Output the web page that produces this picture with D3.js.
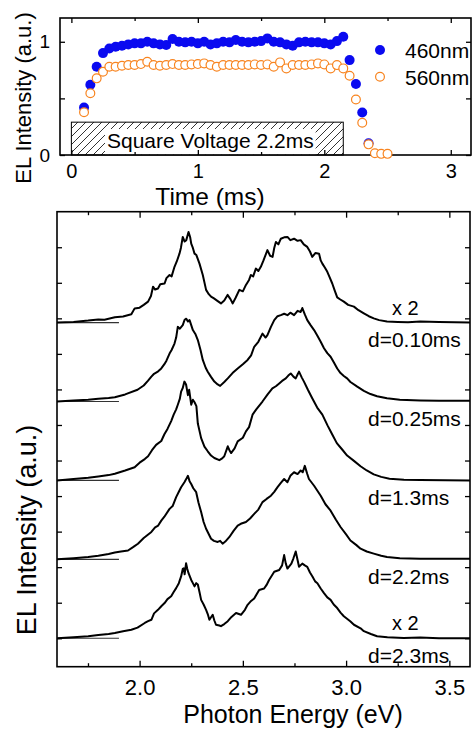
<!DOCTYPE html>
<html>
<head>
<meta charset='utf-8'>
<style>
body { margin: 0; background: #fff; }
svg text { font-family: 'Liberation Sans', Arial, sans-serif; fill: #000; }
.frame { fill: none; stroke: #000; stroke-width: 1.6px; }
.spec { fill: none; stroke: #000; stroke-width: 2px; stroke-linejoin: round; }
.zero { stroke: #333; stroke-width: 1.2px; }
.axis path { display: none; }
.axis line { stroke: #000; stroke-width: 1.3px; }
</style>
<script src='https://d3js.org/d3.v7.min.js'></script>
</head>
<body>
<svg id='chart' width='475' height='729'></svg>
<script>
// ---- top panel data: EL transient under a 2.2 ms square pulse ----
var timeMs = [0.10, 0.15, 0.20, 0.25, 0.30, 0.35, 0.40, 0.45, 0.50, 0.55,
              0.60, 0.65, 0.70, 0.75, 0.80, 0.85, 0.90, 0.95, 1.00, 1.05,
              1.10, 1.15, 1.20, 1.25, 1.30, 1.35, 1.40, 1.45, 1.50, 1.55,
              1.60, 1.65, 1.70, 1.75, 1.80, 1.85, 1.90, 1.95, 2.00, 2.05,
              2.10, 2.15, 2.20, 2.25, 2.30, 2.35, 2.40, 2.45, 2.50];
var el460 = [0.42, 0.62, 0.78, 0.90, 0.94, 0.956, 0.965, 0.977, 0.986, 0.986,
             1.001, 0.986, 0.977, 0.971, 1.024, 1.001, 0.995, 1.001, 0.986, 1.001,
             0.977, 0.986, 1.001, 0.995, 1.015, 1.001, 0.995, 1.001, 1.006, 1.030,
             1.001, 0.995, 0.977, 0.965, 0.995, 1.001, 0.995, 0.995, 0.986, 0.977,
             1.006, 1.045, 0.838, 0.627, 0.376, 0.103];
var el560 = [0.377, 0.545, 0.677, 0.735, 0.78, 0.78, 0.788, 0.795, 0.795, 0.803,
             0.824, 0.795, 0.788, 0.795, 0.803, 0.795, 0.795, 0.80, 0.803, 0.809,
             0.795, 0.78, 0.795, 0.795, 0.795, 0.795, 0.795, 0.80, 0.795, 0.80,
             0.78, 0.818, 0.765, 0.795, 0.795, 0.795, 0.80, 0.809, 0.80, 0.765,
             0.794, 0.765, 0.70, 0.49, 0.285, 0.094, 0.015, 0.01, 0.01];
var seriesNames = ['460nm', '560nm'];
var pulse = [0, 2.15, 0.29];   // start (ms), end (ms), drawn height
var pulseLabel = 'Square Voltage 2.2ms';
var topXTicks = [0, 1, 2, 3];
var topXMinor = [0.5, 1.5, 2.5];
var topYTicks = [0, 0.5, 1];

// ---- bottom panel data: EL spectra at several delays ----
var delays = ['d=0.10ms', 'd=0.25ms', 'd=1.3ms', 'd=2.2ms', 'd=2.3ms'];
var scaleNotes = ['x 2', '', '', '', 'x 2'];
var offsets = [8.88, 6.66, 4.44, 2.22, 0];
var zeroLineEnd = 1.9;
var botXTicks = [2.0, 2.5, 3.0, 3.5];
var botXMinor = [1.75, 2.25, 2.75, 3.25];
var botYTicks = [0, 1, 2, 3, 4, 5, 6, 7, 8, 9, 10, 11];

var specD010 = [[1.60,0.00],[1.68,0.02],[1.751,0.056],[1.80,0.09],[1.83,0.08],[1.88,0.15],[1.92,0.17],[1.96,0.233],
  [1.976,0.40],[2.00,0.42],[2.02,0.50],[2.041,0.59],[2.055,0.75],[2.065,1.01],[2.075,0.93],[2.089,0.96],[2.10,1.08],
  [2.121,1.10],[2.13,1.25],[2.145,1.34],[2.155,1.30],[2.169,1.57],[2.18,1.72],[2.193,1.94],[2.20,2.10],[2.209,2.41],
  [2.218,2.28],[2.226,2.32],[2.237,2.55],[2.245,2.40],[2.250,2.22],[2.258,2.10],[2.266,1.94],[2.275,1.90],[2.290,1.66],
  [2.306,1.34],[2.322,0.92],[2.335,0.80],[2.346,0.73],[2.36,0.68],[2.375,0.62],[2.394,0.54],[2.41,0.62],[2.426,0.78],
  [2.44,0.66],[2.451,0.54],[2.465,0.70],[2.483,0.92],[2.50,0.88],[2.515,1.06],[2.53,1.20],[2.539,1.34],[2.55,1.30],
  [2.563,1.52],[2.575,1.45],[2.587,1.57],[2.60,1.75],[2.619,2.04],[2.632,1.88],[2.644,1.85],[2.652,2.10],[2.660,2.27],
  [2.672,2.20],[2.684,2.36],[2.70,2.40],[2.716,2.41],[2.73,2.32],[2.748,2.36],[2.765,2.30],[2.780,2.32],[2.795,2.20],
  [2.812,2.13],[2.825,2.00],[2.836,1.85],[2.852,1.96],[2.869,1.94],[2.877,1.75],[2.885,1.66],[2.897,1.55],[2.909,1.43],
  [2.92,1.28],[2.933,1.10],[2.945,0.90],[2.957,0.71],[2.972,0.65],[2.989,0.59],[3.01,0.50],[3.038,0.45],[3.06,0.35],
  [3.086,0.26],[3.11,0.18],[3.134,0.12],[3.16,0.07],[3.198,0.03],[3.25,0.02],[3.30,0.01],[3.359,0.03],[3.45,0.02],[3.6,0.0]];

var specD025 = [[1.60,0.00],[1.68,0.03],[1.751,0.05],[1.80,0.08],[1.85,0.10],[1.88,0.12],[1.93,0.20],[1.99,0.33],
  [2.02,0.45],[2.04,0.58],[2.057,0.70],[2.07,0.78],[2.09,0.85],[2.105,0.93],[2.12,1.05],[2.13,1.15],[2.145,1.35],
  [2.155,1.45],[2.169,1.63],[2.177,1.80],[2.185,2.10],[2.195,2.05],[2.209,2.15],[2.218,2.30],[2.226,2.33],[2.234,2.25],
  [2.242,2.29],[2.250,2.15],[2.258,2.01],[2.27,1.90],[2.282,1.73],[2.295,1.45],[2.306,1.17],[2.32,0.95],[2.33,0.84],
  [2.345,0.70],[2.362,0.56],[2.378,0.48],[2.390,0.44],[2.41,0.55],[2.427,0.65],[2.45,0.80],[2.475,0.93],[2.50,1.05],
  [2.523,1.17],[2.54,1.30],[2.555,1.54],[2.575,1.68],[2.595,1.91],[2.610,1.80],[2.619,1.87],[2.636,2.10],[2.652,2.29],
  [2.668,2.40],[2.684,2.43],[2.70,2.47],[2.716,2.43],[2.73,2.50],[2.748,2.43],[2.765,2.55],[2.780,2.52],[2.788,2.63],
  [2.800,2.45],[2.812,2.29],[2.828,2.15],[2.845,2.01],[2.861,1.85],[2.877,1.68],[2.893,1.50],[2.909,1.36],[2.925,1.26],
  [2.941,1.10],[2.957,0.93],[2.973,0.80],[2.989,0.72],[3.005,0.65],[3.021,0.55],[3.054,0.42],[3.086,0.30],[3.118,0.21],
  [3.15,0.15],[3.198,0.09],[3.26,0.05],[3.359,0.03],[3.45,0.02],[3.6,0.02]];

var specD13 = [[1.60,0.00],[1.68,0.04],[1.751,0.075],[1.80,0.11],[1.85,0.15],[1.88,0.19],[1.93,0.28],[1.976,0.37],
  [2.00,0.50],[2.025,0.60],[2.041,0.68],[2.06,0.85],[2.08,1.00],[2.105,1.11],[2.12,1.30],[2.135,1.45],[2.153,1.67],
  [2.165,1.85],[2.177,2.00],[2.185,2.13],[2.195,2.30],[2.201,2.50],[2.209,2.60],[2.217,2.78],[2.225,2.70],[2.234,2.40],
  [2.240,2.55],[2.250,2.13],[2.258,2.27],[2.266,2.20],[2.275,2.09],[2.282,1.60],[2.298,1.19],[2.314,0.95],[2.330,0.82],
  [2.346,0.70],[2.362,0.63],[2.386,0.57],[2.40,0.62],[2.410,0.68],[2.427,0.96],[2.435,0.85],[2.443,0.77],[2.46,0.90],
  [2.475,1.10],[2.50,1.20],[2.515,1.38],[2.53,1.50],[2.547,1.85],[2.565,2.00],[2.595,2.22],[2.62,2.42],[2.643,2.59],
  [2.660,2.65],[2.676,2.73],[2.69,2.80],[2.708,2.87],[2.72,2.95],[2.732,3.01],[2.745,2.92],[2.756,2.87],[2.765,2.98],
  [2.772,3.06],[2.785,2.90],[2.796,2.78],[2.815,2.55],[2.836,2.31],[2.86,2.05],[2.885,1.85],[2.91,1.55],[2.933,1.29],
  [2.955,1.05],[2.981,0.87],[3.005,0.70],[3.038,0.55],[3.07,0.40],[3.10,0.28],[3.134,0.17],[3.17,0.10],[3.21,0.05],
  [3.28,0.02],[3.359,0.01],[3.6,0.0]];

var specD22 = [[1.60,0.00],[1.68,0.03],[1.751,0.065],[1.80,0.10],[1.85,0.15],[1.88,0.19],[1.91,0.22],[1.944,0.25],
  [1.97,0.35],[1.992,0.44],[2.02,0.60],[2.057,0.77],[2.075,0.90],[2.09,0.95],[2.105,1.09],[2.12,1.20],[2.145,1.42],
  [2.16,1.50],[2.177,1.75],[2.190,1.90],[2.201,2.03],[2.217,2.17],[2.225,2.25],[2.234,2.35],[2.242,2.20],[2.250,2.12],
  [2.26,2.00],[2.274,1.89],[2.285,1.60],[2.298,1.33],[2.31,1.05],[2.322,0.86],[2.346,0.58],[2.36,0.52],[2.378,0.49],
  [2.39,0.52],[2.402,0.44],[2.415,0.50],[2.435,0.63],[2.455,0.80],[2.475,0.95],[2.49,1.00],[2.515,1.05],[2.535,1.15],
  [2.555,1.28],[2.575,1.40],[2.595,1.61],[2.615,1.70],[2.636,1.79],[2.652,1.90],[2.668,2.03],[2.684,2.15],[2.70,2.26],
  [2.716,2.17],[2.73,2.35],[2.748,2.45],[2.765,2.40],[2.78,2.50],[2.790,2.45],[2.800,2.63],[2.812,2.40],[2.820,2.26],
  [2.845,2.07],[2.877,1.79],[2.90,1.55],[2.925,1.37],[2.95,1.12],[2.973,0.91],[3.00,0.70],[3.021,0.53],[3.05,0.40],
  [3.07,0.30],[3.10,0.22],[3.134,0.16],[3.17,0.10],[3.198,0.065],[3.26,0.03],[3.359,0.02],[3.6,0.02]];

var specD23 = [[1.60,0.00],[1.68,0.03],[1.751,0.056],[1.80,0.09],[1.85,0.12],[1.88,0.15],[1.92,0.20],[1.96,0.24],
  [1.99,0.30],[2.025,0.43],[2.041,0.48],[2.057,0.52],[2.07,0.70],[2.089,0.80],[2.105,0.90],[2.121,0.99],[2.135,1.10],
  [2.153,1.18],[2.165,1.30],[2.177,1.41],[2.19,1.55],[2.201,1.74],[2.209,1.95],[2.214,1.97],[2.218,1.80],[2.225,2.11],
  [2.231,1.95],[2.237,1.83],[2.250,1.64],[2.258,1.55],[2.266,1.46],[2.274,1.55],[2.282,1.51],[2.290,1.30],[2.298,1.08],
  [2.31,0.95],[2.322,0.80],[2.330,0.68],[2.338,0.52],[2.354,0.66],[2.362,0.50],[2.370,0.38],[2.386,0.36],[2.394,0.34],
  [2.41,0.40],[2.427,0.48],[2.445,0.60],[2.467,0.71],[2.491,0.66],[2.51,0.80],[2.523,0.94],[2.54,1.05],[2.555,1.12],
  [2.579,1.36],[2.603,1.40],[2.615,1.50],[2.627,1.64],[2.652,1.87],[2.676,1.92],[2.69,2.05],[2.700,2.34],[2.708,2.10],
  [2.716,1.96],[2.735,2.10],[2.745,2.25],[2.756,2.44],[2.765,2.20],[2.772,2.01],[2.788,2.10],[2.800,2.05],[2.812,2.01],
  [2.825,1.85],[2.837,1.74],[2.85,1.60],[2.861,1.55],[2.877,1.40],[2.893,1.27],[2.909,1.15],[2.925,1.08],[2.94,0.95],
  [2.957,0.85],[2.973,0.72],[2.989,0.62],[3.02,0.48],[3.038,0.38],[3.07,0.28],[3.086,0.20],[3.12,0.12],[3.15,0.056],
  [3.2,0.03],[3.279,0.01],[3.359,0.02],[3.45,0.0],[3.6,0.0]];

var spectra = [specD010, specD025, specD13, specD22, specD23];

var svg = d3.select('#chart');

// hatch pattern for the voltage pulse box
var defs = svg.append('defs');
defs.append('pattern').
    attr('id', 'hatch').
    attr('patternUnits', 'userSpaceOnUse').
    attr('width', 8).attr('height', 8).
  append('path').
    attr('d', 'M-2,2 l4,-4 M0,8 l8,-8 M6,10 l4,-4').
    attr('stroke', '#000').
    attr('stroke-width', 0.8);

// ===================== top panel =====================
var xT = d3.scaleLinear().domain([-0.09, 3.16]).range([60, 471]);
var yT = d3.scaleLinear().domain([0, 1.21]).range([155, 18]);

var gT = svg.append('g');

// pulse box
var pulseBox = gT.append('g');
pulseBox.append('rect').
    attr('x', xT(pulse[0])).
    attr('y', yT(pulse[2])).
    attr('width', xT(pulse[1]) - xT(pulse[0])).
    attr('height', yT(0) - yT(pulse[2])).
    attr('fill', 'url(#hatch)').
    attr('stroke', '#000').
    attr('stroke-width', 1);
var pulseBg = pulseBox.append('rect').attr('fill', '#fff');
var pulseText = pulseBox.append('text').
    attr('x', 107).
    attr('y', 148).
    style('font-size', '21px').
    text(pulseLabel);
var bb = pulseText.node().getBBox();
pulseBg.attr('x', bb.x - 2).attr('y', bb.y).
    attr('width', bb.width + 4).attr('height', yT(0) - bb.y - 0.5);

// frame and ticks
gT.append('rect').attr('class', 'frame').
    attr('x', 60).attr('y', 18).attr('width', 411).attr('height', 137);

gT.append('g').attr('class', 'axis').
    attr('transform', 'translate(0,155)').
    call(d3.axisBottom(xT).tickValues(topXTicks).tickSize(-5).tickPadding(9).tickFormat(d3.format('d'))).
    selectAll('text').style('font-size', '20px');
gT.append('g').attr('class', 'axis').
    attr('transform', 'translate(0,155)').
    call(d3.axisBottom(xT).tickValues(topXMinor).tickSize(-3).tickFormat(''));
gT.append('g').attr('class', 'axis').
    attr('transform', 'translate(0,18)').
    call(d3.axisTop(xT).tickValues(topXTicks).tickSize(-5).tickFormat(''));
gT.append('g').attr('class', 'axis').
    attr('transform', 'translate(0,18)').
    call(d3.axisTop(xT).tickValues(topXMinor).tickSize(-3).tickFormat(''));
gT.append('g').attr('class', 'axis').
    attr('transform', 'translate(60,0)').
    call(d3.axisLeft(yT).tickValues(topYTicks).tickSize(-5).tickPadding(10).
      tickFormat(function(d) { return d === 0.5 ? '' : d; })).
    selectAll('text').style('font-size', '19px');
gT.append('g').attr('class', 'axis').
    attr('transform', 'translate(471,0)').
    call(d3.axisRight(yT).tickValues(topYTicks).tickSize(-5).tickFormat(''));

// markers
gT.append('g').selectAll('circle').
    data(el460).
  enter().append('circle').
    attr('cx', function(d, i) { return xT(timeMs[i]); }).
    attr('cy', function(d) { return yT(d); }).
    attr('r', 5).
    attr('fill', '#0a0af0');
gT.append('g').selectAll('circle').
    data(el560).
  enter().append('circle').
    attr('cx', function(d, i) { return xT(timeMs[i]); }).
    attr('cy', function(d) { return yT(d); }).
    attr('r', 4.4).
    attr('fill', '#fff').
    attr('stroke', '#f8841f').
    attr('stroke-width', 1.2);

// legend
gT.append('circle').attr('cx', 380).attr('cy', 50).attr('r', 5).attr('fill', '#0a0af0');
gT.append('circle').attr('cx', 380).attr('cy', 76.7).attr('r', 4.4).
    attr('fill', '#fff').attr('stroke', '#f8841f').attr('stroke-width', 1.2);
gT.append('text').attr('x', 405).attr('y', 58).style('font-size', '21px').text(seriesNames[0]);
gT.append('text').attr('x', 405).attr('y', 85).style('font-size', '21px').text(seriesNames[1]);

// labels
gT.append('text').
    attr('x', 210).attr('y', 205).
    attr('text-anchor', 'middle').
    style('font-size', '24.5px').
    text('Time (ms)');
gT.append('text').
    attr('transform', 'translate(31,98) rotate(-90)').
    attr('text-anchor', 'middle').
    style('font-size', '22px').
    text('EL Intensity (a.u.)');

// ===================== bottom panel =====================
var xB = d3.scaleLinear().domain([1.6, 3.6]).range([57, 470]);
var yB = d3.scaleLinear().domain([-0.8, 12]).range([666.7, 211.7]);

var gB = svg.append('g');

defs.append('clipPath').attr('id', 'clipB').
  append('rect').attr('x', 57).attr('y', 211.7).attr('width', 413).attr('height', 455);

gB.append('rect').attr('class', 'frame').
    attr('x', 57).attr('y', 211.7).attr('width', 413).attr('height', 455);

gB.append('g').attr('class', 'axis').
    attr('transform', 'translate(0,666.7)').
    call(d3.axisBottom(xB).tickValues(botXTicks).tickSize(-6).tickPadding(12.5).tickFormat(d3.format('.1f'))).
    selectAll('text').style('font-size', '22px');
gB.append('g').attr('class', 'axis').
    attr('transform', 'translate(0,666.7)').
    call(d3.axisBottom(xB).tickValues(botXMinor).tickSize(-3.5).tickFormat(''));
gB.append('g').attr('class', 'axis').
    attr('transform', 'translate(0,211.7)').
    call(d3.axisTop(xB).tickValues(botXTicks).tickSize(-6).tickFormat(''));
gB.append('g').attr('class', 'axis').
    attr('transform', 'translate(0,211.7)').
    call(d3.axisTop(xB).tickValues(botXMinor).tickSize(-3.5).tickFormat(''));
gB.append('g').attr('class', 'axis').
    attr('transform', 'translate(57,0)').
    call(d3.axisLeft(yB).tickValues(botYTicks).tickSize(-5).tickFormat(''));
gB.append('g').attr('class', 'axis').
    attr('transform', 'translate(470,0)').
    call(d3.axisRight(yB).tickValues(botYTicks).tickSize(-5).tickFormat(''));

// zero lines
gB.append('g').selectAll('line').
    data(offsets).
  enter().append('line').
    attr('class', 'zero').
    attr('x1', xB(1.6)).attr('x2', xB(zeroLineEnd)).
    attr('y1', function(d) { return yB(d); }).
    attr('y2', function(d) { return yB(d); });

// spectra
var specG = gB.append('g').attr('clip-path', 'url(#clipB)');
spectra.forEach(function(s, i) {
  var line = d3.line().
      x(function(d) { return xB(d[0]); }).
      y(function(d) { return yB(offsets[i] + d[1]); });
  specG.append('path').
      datum(s).
      attr('class', 'spec').
      attr('d', line);
});

// delay and scale notes
gB.append('g').selectAll('text').
    data(delays).
  enter().append('text').
    attr('x', 368).
    attr('y', function(d, i) { return yB(offsets[i]) + 24.5; }).
    style('font-size', '21px').
    text(function(d) { return d; });
gB.append('g').selectAll('text').
    data(scaleNotes).
  enter().append('text').
    attr('x', 392).
    attr('y', function(d, i) { return yB(offsets[i]) - 8; }).
    style('font-size', '20px').
    text(function(d) { return d; });

gB.append('text').
    attr('x', 293).attr('y', 723).
    attr('text-anchor', 'middle').
    style('font-size', '25px').
    text('Photon Energy (eV)');
gB.append('text').
    attr('transform', 'translate(36,530) rotate(-90)').
    attr('text-anchor', 'middle').
    style('font-size', '27px').
    text('EL Intensity (a.u.)');
</script>
</body>
</html>
